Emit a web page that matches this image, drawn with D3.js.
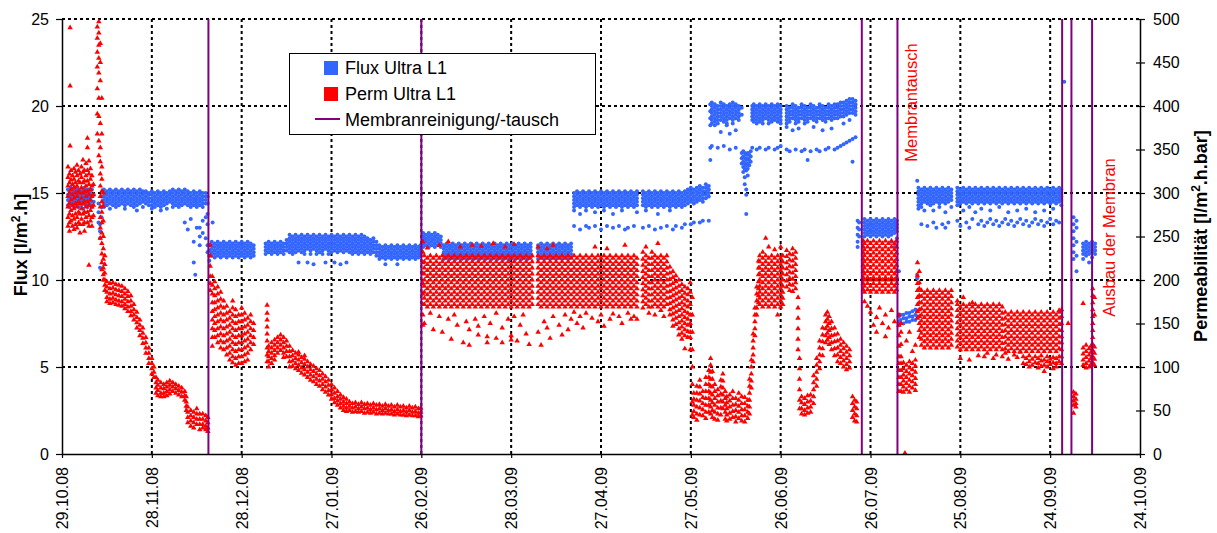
<!DOCTYPE html>
<html>
<head>
<meta charset="utf-8">
<script src="https://cdn.jsdelivr.net/npm/d3@7"></script>
<style>
  body { margin: 0; background: #fff; }
  svg { display: block; font-family: "Liberation Sans", Arial, sans-serif; }
</style>
</head>
<body>
<svg id="chart" width="1217" height="533"></svg>
<script>
// X axis: dates every 30 days
const dateTickLabels = ["29.10.08","28.11.08","28.12.08","27.01.09","26.02.09","28.03.09","27.04.09",
  "27.05.09","26.06.09","26.07.09","25.08.09","24.09.09","24.10.09"];
const fluxTicks = [0, 5, 10, 15, 20, 25];
const permTicks = [0, 50, 100, 150, 200, 250, 300, 350, 400, 450, 500];

// Membrane cleaning / replacement events, days after 29.10.08
const cleaningDays = [48.9, 120, 267.1, 279, 334, 337.1, 344];

// Text notes: [day, top y-value in l/m².h.bar, text]
const notes = [[285.6, 472, "Membrantausch"], [351.7, 340, "Ausbau der Membran"]];

// Flux Ultra L1 [l/m².h] — "day: values measured that day"
const fluxRows = [
"2:15.2 14.9 14.6 14.3","2.5:15.1 14.8 14.5 14.2","3:15.3 15.0 14.7 14.4","3.5:15.2 14.9 14.6 14.3",
"4:15.1 14.8 14.5 14.2","4.5:15.2 15.0 14.7 14.4","5:15.3 14.9 14.6 14.3","5.5:15.1 14.8 14.5 14.2",
"6:15.2 15.0 14.7 14.4","6.5:15.2 14.9 14.6 14.3","7:15.1 14.8 14.5 14.1","7.5:15.3 15.0 14.7 14.4",
"8:15.2 14.9 14.6 14.3","8.5:15.1 14.8 14.5 14.2","9:15.2 15.0 14.7 14.4","9.5:15.1 14.9 14.6 14.3",
"10:15.2 14.8 14.5 14.2","10.6:14.9 14.5",
"12.2:14.4 13.9 13.3","12.7:13.2 12.8 12.4 10.7","13.2:14.8 14.2 13.6",
"14:15.2 15.0 14.8 14.6 14.4 14.2","15:15.1 14.9 14.7 14.5 14.3","16:15.2 15.0 14.8 14.6 14.4 14.1",
"17:15.1 14.9 14.7 14.5 14.3","18:15.2 15.0 14.8 14.6 14.4 14.2","19:15.1 14.9 14.7 14.5 14.3",
"20:15.2 15.0 14.8 14.6 14.4","21:15.1 14.9 14.7 14.5 14.3 14.1","22:15.2 15.0 14.8 14.6 14.4",
"23:15.1 14.9 14.7 14.5 14.3","24:15.2 15.0 14.8 14.6 14.4 14.2","25:15.1 14.9 14.7 14.5 14.3 14.0",
"26:15.2 15.0 14.8 14.6 14.4","27:15.1 14.9 14.7 14.5 14.2","28:15.1 15.0 14.8 14.6 14.4",
"29:15.0 14.9 14.7 14.5 14.3","30:15.1 14.9 14.7 14.5 14.3 14.1","31:15.0 14.8 14.6 14.4 14.2",
"32:15.1 14.9 14.7 14.5 14.3","33:15.0 14.8 14.6 14.4 14.2 14.0","34:15.1 14.9 14.7 14.5 14.3",
"35:15.0 14.8 14.6 14.4 14.1","36:15.1 14.9 14.7 14.5",
"37:15.2 15.0 14.8 14.6 14.4 14.2","38:15.1 14.9 14.7 14.5 14.3","39:15.2 15.0 14.8 14.6 14.4 14.2",
"40:15.1 14.9 14.7 14.5 14.3","41:15.2 15.0 14.8 14.6 14.4 13.3","42:15.1 14.9 14.7 14.5 14.3 12.9",
"43:15.0 14.8 14.6 14.4 14.2 13.5","44:15.1 14.9 14.7 14.5 14.3 12.2 11.0","44.5:14.6 10.3",
"45:15.0 14.8 14.6 14.4 14.2 13.0","46:15.1 14.9 14.7 14.5 14.3 13.0 12.5 12.0",
"47:15.0 14.8 14.6 14.4 14.2 13.4 12.7","48:15.0 14.8 14.6 14.4 13.6 12.4","48.6:14.8 14.4 13.8 13.2 12.0 11.6",
"49.2:12.0 11.7 11.4 11.1","50:12.2 12.0 11.8 11.6 11.4","50.3:13.3","51:12.1 11.9 11.7 11.5 11.3",
"52:12.2 12.0 11.8 11.6 11.4","53:12.1 11.9 11.7 11.5 11.3","54:12.2 12.0 11.8 11.6 11.4",
"55:12.1 11.9 11.7 11.5 11.3","56:12.2 12.0 11.8 11.6 11.4","57:12.1 11.9 11.7 11.5 11.3",
"58:12.2 12.0 11.8 11.6 11.4","59:12.1 11.9 11.7 11.5 11.3","60:12.2 12.0 11.8 11.6 11.4",
"61:12.1 11.9 11.7 11.5 11.3","62:12.2 12.0 11.8 11.6 11.4","63:12.1 11.9 11.7 11.5 11.3","64:12.0 11.8 11.6 11.4",
"68:12.1 11.9 11.7 11.5","69:12.2 12.0 11.8 11.6","70:12.1 11.9 11.7 11.5","71:12.2 12.0 11.8 11.6",
"72:12.1 11.9 11.7 11.5","73:12.2 12.0 11.8 11.6","74:12.1 11.9 11.7 11.5","75:12.3 12.1 11.9 11.7",
"76:12.6 12.4 12.2 12.0 11.8 11.6","77:12.5 12.3 12.1 11.9 11.7 11.5","78:12.6 12.4 12.2 12.0 11.8 11.6",
"79:12.5 12.3 12.1 11.9 11.7 11.0","80:12.6 12.4 12.2 12.0 11.8 11.6","81:12.5 12.3 12.1 11.9 11.7 11.5",
"82:12.6 12.4 12.2 12.0 11.8 11.0","83:12.5 12.3 12.1 11.9 11.7 11.5","84:12.6 12.4 12.2 12.0 11.8 10.9",
"85:12.5 12.3 12.1 11.9 11.7 11.5","86:12.6 12.4 12.2 12.0 11.8 11.6","87:12.5 12.3 12.1 11.9 11.7 11.5",
"88:12.6 12.4 12.2 12.0 11.8 11.0","89:12.5 12.3 12.1 11.9 11.7 11.5","90:12.6 12.4 12.2 12.0 11.8 11.6",
"91:12.5 12.3 12.1 11.9 11.7 11.0","92:12.6 12.4 12.2 12.0 11.8 11.6","93:12.5 12.3 12.1 11.9 11.7 10.9",
"94:12.6 12.4 12.2 12.0 11.8 11.6","95:12.5 12.3 12.1 11.9 11.7 11.0","96:12.6 12.4 12.2 12.0 11.8 11.6",
"97:12.5 12.3 12.1 11.9 11.7 11.5","98:12.6 12.4 12.2 12.0 11.8 11.6","99:12.5 12.3 12.1 11.9 11.7 11.5",
"100:12.6 12.4 12.2 12.0 11.8 11.6","101:12.5 12.3 12.1 11.9 11.7 11.5","102:12.4 12.2 12.0 11.8 11.6",
"103:12.3 12.1 11.9 11.7 11.5","104:12.4 12.2 12.0 11.8 11.6","105:12.2 12.0 11.8 11.6 11.4",
"106:12.0 11.8 11.6 11.4 11.2","107:11.9 11.7 11.5 11.3","108:12.0 11.8 11.6 11.4 11.2 10.9",
"109:11.9 11.7 11.5 11.3","110:12.0 11.8 11.6 11.4 11.2","111:11.9 11.7 11.5 11.3",
"112:12.0 11.8 11.6 11.4 11.2 10.9","113:11.9 11.7 11.5 11.3","114:12.0 11.8 11.6 11.4 11.2",
"115:11.9 11.7 11.5 11.3","116:12.0 11.8 11.6 11.4 11.2","117:11.9 11.7 11.5 11.3",
"118:12.0 11.8 11.6 11.4 11.2","119:11.9 11.7 11.5 11.3","119.7:12.0 11.8 11.6 11.4",
"120.6:12.7 12.5 12.3 12.1 11.9","121.5:12.6 12.4 12.2 12.0","122.5:12.7 12.5 12.3 12.1 11.9",
"123.5:12.6 12.4 12.2 12.0","124.5:12.7 12.5 12.3 12.1 11.9","125.5:12.6 12.4 12.2 12.0","126.5:12.5 12.3 12.1 11.9",
"127.5:12.0 11.8 11.6 11.4 11.2","128.5:12.1 11.9 11.7 11.5 11.3","129.5:12.0 11.8 11.6 11.4 11.2",
"130.5:12.1 11.9 11.7 11.5 11.3","131.5:12.0 11.8 11.6 11.4 11.2","132.5:12.1 11.9 11.7 11.5 11.3",
"133.5:12.0 11.8 11.6 11.4 11.2","134.5:12.1 11.9 11.7 11.5 11.3","135.5:12.0 11.8 11.6 11.4 11.2",
"136.5:12.1 11.9 11.7 11.5 11.3","137.5:12.0 11.8 11.6 11.4 11.2","138.5:12.1 11.9 11.7 11.5 11.3",
"139.5:12.0 11.8 11.6 11.4 11.2","140.5:12.1 11.9 11.7 11.5 11.3","141.5:12.0 11.8 11.6 11.4 11.2",
"142.5:12.1 11.9 11.7 11.5 11.3","143.5:12.0 11.8 11.6 11.4 11.2","144.5:12.1 11.9 11.7 11.5 11.3",
"145.5:12.0 11.8 11.6 11.4 11.2","146.5:12.1 11.9 11.7 11.5 11.3","147.5:12.0 11.8 11.6 11.4 11.2",
"148.5:12.1 11.9 11.7 11.5 11.3","149.5:12.0 11.8 11.6 11.4 11.2","150.5:12.1 11.9 11.7 11.5 11.3",
"151.5:12.0 11.8 11.6 11.4 11.2","152.5:12.1 11.9 11.7 11.5 11.3","153.5:12.0 11.8 11.6 11.4 11.2",
"154.5:12.1 11.9 11.7 11.5 11.3","155.5:12.0 11.8 11.6 11.4 11.2","156.5:12.1 11.9 11.7 11.5 11.3",
"159:12.0 11.8 11.6 11.4 11.2","160:12.1 11.9 11.7 11.5 11.3","161:12.0 11.8 11.6 11.4 11.2",
"162:12.1 11.9 11.7 11.5 11.3","163:12.0 11.8 11.6 11.4 11.2","164:12.1 11.9 11.7 11.5 11.3",
"165:12.0 11.8 11.6 11.4 11.2","166:12.1 11.9 11.7 11.5 11.3","167:12.0 11.8 11.6 11.4 11.2",
"168:12.1 11.9 11.7 11.5 11.3","169:12.0 11.8 11.6 11.4 11.2","170:12.1 11.9 11.7 11.5 11.3",
"171:15.0 14.8 14.6 14.4 14.2 14.0 13.1","172:15.1 14.9 14.7 14.5 14.3","173:15.0 14.8 14.6 14.4 14.2 13.8 12.9",
"174:15.1 14.9 14.7 14.5 14.3","175:15.0 14.8 14.6 14.4 14.2 14.0 13.1","176:15.1 14.9 14.7 14.5 14.3 13.0",
"177:15.0 14.8 14.6 14.4 14.2","178:15.1 14.9 14.7 14.5 14.3 13.9 13.1","179:15.0 14.8 14.6 14.4 14.2",
"180:15.1 14.9 14.7 14.5 14.3 12.9","181:15.0 14.8 14.6 14.4 14.2 14.0","182:15.1 14.9 14.7 14.5 14.3 13.1",
"183:15.0 14.8 14.6 14.4 14.2","184:15.1 14.9 14.7 14.5 14.3 13.8 13.0","185:15.0 14.8 14.6 14.4 14.2",
"186:15.1 14.9 14.7 14.5 14.3 13.1","187:15.0 14.8 14.6 14.4 14.2 14.0","188:15.1 14.9 14.7 14.5 14.3 12.9",
"189:15.0 14.8 14.6 14.4 14.2 13.0","190:15.1 14.9 14.7 14.5 14.3","191:15.0 14.8 14.6 14.4 14.2 13.1",
"192:15.1 14.9 14.7 14.5 14.3 13.9","194:15.1 14.9 14.7 14.5 14.3 13.0","195:15.0 14.8 14.6 14.4 14.2 14.0",
"196:15.1 14.9 14.7 14.5 14.3 13.1","197:15.0 14.8 14.6 14.4 14.2","198:15.1 14.9 14.7 14.5 14.3 12.9",
"199:15.0 14.8 14.6 14.4 14.2 13.8","200:15.1 14.9 14.7 14.5 14.3 13.0","201:15.0 14.8 14.6 14.4 14.2",
"202:15.1 14.9 14.7 14.5 14.3 13.1","203:15.0 14.8 14.6 14.4 14.2 14.0","204:15.1 14.9 14.7 14.5 14.3 12.9",
"205:15.0 14.8 14.6 14.4 14.2 13.1","206:15.1 14.9 14.7 14.5 14.3","207:15.0 14.8 14.6 14.4 14.2 13.0",
"208:15.1 14.9 14.7 14.5 14.3 13.2","209:15.2 15.0 14.8 14.6 14.4","210:15.3 15.1 14.9 14.7 14.5 13.2",
"211:15.2 15.0 14.8 14.6 14.4 13.3","212:15.3 15.1 14.9 14.7 14.5","213:15.4 15.2 15.0 14.8 14.6 13.3",
"214:15.3 15.1 14.9 14.7 14.5 13.4","215:15.5 15.3 15.1 14.9 14.7","216:15.4 15.2 15.0 14.8 13.4",
"216.5:20.1 19.7 19.3 18.9 17.6 16.9","217:20.2 20.0 19.8 19.6 19.4 19.2 19.0 17.7",
"218:20.1 19.9 19.7 19.5 19.3 19.1 18.9","219:20.0 19.8 19.6 19.4 19.2 19.0 17.6",
"220:20.2 20.0 19.8 19.6 19.4 19.2 18.5","221:20.1 19.9 19.7 19.5 19.3 19.1 17.7",
"222:20.0 19.8 19.6 19.4 19.2 19.0 18.9","223:20.1 19.9 19.7 19.5 19.3 18.4 17.5",
"224:20.2 20.0 19.8 19.6 19.4 19.2 19.0","225:20.1 19.9 19.7 19.5 19.3 18.6 17.6",
"226:20.0 19.8 19.6 19.4 19.2",
"227:19.9 19.5 17.3 17.0 16.7","227.5:17.4 17.1 16.8 16.5 16.2","228:17.3 17.0 16.7 16.4 15.9 15.5",
"228.5:17.2 16.9 16.6 16.3 15.2 14.9 13.8","229:17.3 17.0 16.7 16.4 16.0","229.5:17.2 16.9 16.6","230:17.4 17.1 16.8",
"230.5:20.0 19.8 19.6 19.4 19.2 17.6","231:20.1 19.9 19.7 19.5 19.3 19.1","232:20.0 19.8 19.6 19.4 19.2 19.0 17.5",
"233:20.1 19.9 19.7 19.5 19.3 19.1 17.6","234:20.0 19.8 19.6 19.4 19.2 19.0","235:20.1 19.9 19.7 19.5 19.3 17.5",
"236:20.0 19.8 19.6 19.4 19.2 19.0 17.6","237:20.1 19.9 19.7 19.5 19.3 19.1","238:20.0 19.8 19.6 19.4 19.2 17.5",
"239:20.1 19.9 19.7 19.5 19.3 19.1 17.6","240:20.0 19.8 19.6 19.4 19.2 19.0 17.7",
"242:20.0 19.8 19.6 19.4 19.2 19.0 18.8 17.5","243:19.9 19.7 19.5 19.3 19.1 17.4","244:20.1 19.9 19.7 19.5 19.3 18.6",
"245:20.0 19.8 19.6 19.4 19.2 19.0 17.5","246:19.9 19.7 19.5 19.3 19.1 18.7","247:20.1 19.9 19.7 19.5 19.3 17.4",
"248:20.0 19.8 19.6 19.4 19.2 19.0 17.5","249:19.9 19.7 19.5 19.3 19.1 16.9","250:20.1 19.9 19.7 19.5 19.3 17.4",
"251:20.0 19.8 19.6 19.4 19.2 18.8","252:19.9 19.7 19.5 19.3 19.1 17.5","253:20.1 19.9 19.7 19.5 19.3 17.4",
"254:20.0 19.8 19.6 19.4 19.2 18.6","255:19.9 19.7 19.5 19.3 19.1 17.5","256:20.1 19.9 19.7 19.5 19.3 17.6",
"257:20.0 19.8 19.6 19.4 19.2 18.7","258:20.1 19.9 19.7 19.5 19.3 17.5","259:20.1 19.9 19.7 19.5 19.3 17.6",
"260:20.2 20.0 19.8 19.6 19.4 17.7","261:20.2 20.0 19.8 19.6 19.4 19.0 17.8","262:20.3 20.1 19.9 19.7 19.5 17.9",
"263:20.4 20.2 20.0 19.8 19.6 19.2 18.0","264:20.4 20.2 20.0 19.8 19.6 18.1 16.8","265:20.3 20.1 19.9 19.7 19.5 18.2",
"265.7:13.4 13.0 12.6 12.2 11.9","266.2:13.3 12.9 12.5",
"268:13.5 13.3 13.1 12.9 12.7 12.5","269:13.4 13.2 13.0 12.8 12.6","270:13.5 13.3 13.1 12.9 12.7 12.5",
"271:13.4 13.2 13.0 12.8 12.6","272:13.5 13.3 13.1 12.9 12.7 12.5","273:13.4 13.2 13.0 12.8 12.6",
"274:13.5 13.3 13.1 12.9 12.7 12.5","275:13.4 13.2 13.0 12.8 12.6","276:13.5 13.3 13.1 12.9 12.7 12.5",
"277:13.4 13.2 13.0 12.8 12.6 12.2","278:13.5 13.3 13.1 12.9 12.7 11.9","278.8:13.4 13.2 13.0 12.8 12.4",
"279.5:10.5 7.9 7.6 7.4","280:8.0 7.7 7.5","281:8.0 7.8 7.5","282:8.1 7.8 7.6","283:8.1 7.9 7.6",
"284:8.2 7.9 7.7","285:8.3 8.0 7.7","285.6:15.7 10.3 10.1 8.2 7.9",
"286:15.3 15.1 14.9 14.7 14.5 14.3 14.1","287:15.2 15.0 14.8 14.6 14.4 14.2 13.2","288:15.3 15.1 14.9 14.7 14.5 14.0",
"289:15.2 15.0 14.8 14.6 14.4 13.1","290:15.3 15.1 14.9 14.7 14.5 14.3","291:15.2 15.0 14.8 14.6 14.4 14.0 13.3",
"292:15.3 15.1 14.9 14.7 14.5 13.0","293:15.2 15.0 14.8 14.6 14.4 14.2","294:15.3 15.1 14.9 14.7 14.5 13.2",
"295:15.2 15.0 14.8 14.6 14.4 13.9 13.0","296:15.3 15.1 14.9 14.7 14.5 13.3","297:15.2 15.0 14.8 14.6 14.2",
"299:15.3 15.1 14.9 14.7 14.5 14.3 13.4","300:15.2 15.0 14.8 14.6 14.4 13.1","301:15.3 15.1 14.9 14.7 14.5 14.0",
"302:15.2 15.0 14.8 14.6 14.4 13.3","303:15.3 15.1 14.9 14.7 14.5 14.2 13.0","304:15.2 15.0 14.8 14.6 14.4 13.5",
"305:15.3 15.1 14.9 14.7 14.5 13.9","306:15.2 15.0 14.8 14.6 14.4 13.2","307:15.3 15.1 14.9 14.7 14.5 14.1 13.4",
"308:15.2 15.0 14.8 14.6 14.4 13.1","309:15.3 15.1 14.9 14.7 14.5 13.3","310:15.2 15.0 14.8 14.6 14.4 14.0 13.5",
"311:15.3 15.1 14.9 14.7 14.5 13.2","312:15.2 15.0 14.8 14.6 14.4 13.4","313:15.3 15.1 14.9 14.7 14.5 14.2 13.1",
"314:15.2 15.0 14.8 14.6 14.4 13.3","315:15.3 15.1 14.9 14.7 14.5 13.5","316:15.2 15.0 14.8 14.6 14.4 13.9 13.2",
"317:15.3 15.1 14.9 14.7 14.5 13.4","318:15.2 15.0 14.8 14.6 14.4 13.1","319:15.3 15.1 14.9 14.7 14.5 14.0 13.3",
"320:15.2 15.0 14.8 14.6 14.4 13.5","321:15.3 15.1 14.9 14.7 14.5 13.2","322:15.2 15.0 14.8 14.6 14.4 14.1 13.4",
"323:15.3 15.1 14.9 14.7 14.5 13.1","324:15.2 15.0 14.8 14.6 14.4 13.3","325:15.3 15.1 14.9 14.7 14.5 13.9 13.5",
"326:15.2 15.0 14.8 14.6 14.4 13.2","327:15.3 15.1 14.9 14.7 14.5 13.4","328:15.2 15.0 14.8 14.6 14.4 14.0 13.1",
"329:15.3 15.1 14.9 14.7 14.5 13.3","330:15.2 15.0 14.8 14.6 14.4 13.5","331:15.3 15.1 14.9 14.7 14.5 14.1 13.2",
"332:15.2 15.0 14.8 14.6 14.4 13.4","333:15.3 15.1 14.9 14.7 14.5 13.3","333.7:15.2 15.0 14.8 14.6 14.3",
"334.7:21.4",
"337.8:13.6 13.2 12.8 12.4 12.0 11.6 11.2","338.8:13.4 13.0 12.2 11.4 10.5",
"341:12.1 11.9 11.7 11.5 11.2","342:12.2 12.0 11.8 11.6 11.4","343:12.1 11.9 11.7 11.5 11.0",
"344:12.2 12.0 11.8 11.6 11.3","345:12.1 11.9 11.7 11.5"
];

// Perm Ultra L1 [l/m².h.bar] — "day: values measured that day"
const permRows = [
"2.7:490 423 354",
"2:330 318 308 296 284 272 262","2.5:322 312 300 288 276 266 256","3:326 315 304 292 280 268","3.5:320 310 298 286 274 262",
"4:328 316 306 294 282 270 258","4.5:324 312 300 288 276 264","5:332 320 308 296 284 272 260","5.5:326 314 302 290 278 266",
"6:322 312 300 288 276 264 254","6.5:330 318 306 294 282 270","7:338 324 312 300 288 276 264","7.5:326 314 302 290 278 266 256",
"8:334 320 308 296 284 272","8.5:363 352 326 314 302 290 278 266","9:337 322 310 298 286 274 262 217","9.5:328 316 304 292 280 268",
"10:320 308 296 284 272 262","10.5:310 298 286 274",
"11.8:491 478 462 445 420 391 368","12.3:497 484 470 455 438 409 388 360 343",
"12.8:472 450 429 380 352 336 322 308 296 284 272 260 248","13.3:409 368 330 316 302 290 278 266 254 242 230 220 212",
"13.8:300 285 268 250 236 224 214 206 200","14.3:228 218 208 200 194 188",
"15:198 192 186 180 175","16:196 190 184 178 173","17:197 191 185 179 174","18:195 189 183 177 172",
"19:194 188 182 176 171","20:193 187 181 175 170","21:190 184 178 172 167","22:187 181 175 169 164","23:182 176 170 164 159",
"24:172 166 160 154","25:163 157 151 145","26:154 148 142 136","27:145 139 133 127","28:134 128 122 116",
"29:122 116 110 104","30:110 104 98 92","30.7:100 94 88",
"31.4:88 82 76 70","32:85 79 73 67","33:82 76 70 66","34:80 75 70 66","35:82 77 72 67","36:84 79 74 69",
"37:82 77 72","38:80 75 70","39:78 73 68","40:76 71 66","41:72 67 62","41.5:66 60 55 50",
"42:54 48 42 36","43:50 44 38 32","44:48 42 36 30","45:52 46 40 34","46:46 40 34 28","47:46 40 34 30","48:44 38 32 28","48.7:42 36 30 26",
"49.5:240 228 216 204 196 188","50.2:204 194 184 174 164 154 144 134 124",
"51:198 190 182 174 166 158 150 142 134","52:192 184 176 168 160 152 144 136 128","53:186 178 170 162 154 146 138 130 122",
"54:176 168 160 152 144 136 128 120","55:170 162 154 146 138 130 122 114","56:164 156 148 140 132 124 116 108",
"57:176 168 160 152 144 136 128 120 112 105","58:166 158 150 142 134 126 118 110 102","59:160 152 144 136 128 120 112 104",
"60:168 160 152 144 136 128 120 112 104","61:162 154 146 138 130 122 114 106","62:156 148 140 132 124 116 108",
"63:160 152 144 136 128 120","64:150 142 134 126",
"68.5:171 162 154 146 138 130 122 114 106","69:124 118 112 106 100",
"70:128 122 116 110 104","71:131 125 119 113 108","72:134 128 122 116","73:137 131 125 119","74:134 128 122 116 111",
"75:130 124 118 112","76:124 118 112 106 100","77:119 113 107 101","78:116 110 104 98","79:117 114 108 102 96",
"80:111 105 99 93","81:113 109 103 97 91","82:106 100 94 88","83:103 97 91 85","84:101 95 89 83",
"85:98 92 86 80","86:96 90 84 78","87:92 86 80 74","88:89 83 77 71","89:85 79 73 68",
"90:80 74 68 63","91:76 70 64 59","92:72 66 61 56","93:68 63 58 53","94:65 60 55 50","95:63 58 53 49",
"96:60 55 50","97:58 53 48","98:59 54 49","99:57 52 48","100:59 54 49","101:57 52 47","102:58 53 48",
"103:56 51 47","104:58 53 48","105:56 51 46","106:57 52 47","107:55 50 46","108:57 52 47","109:55 50 46",
"110:56 51 46","111:54 49 45","112:56 51 46","113:54 49 45","114:55 50 45","115:53 48 44","116:55 50 45",
"117:53 48 44","118:54 49 44","119:52 47 43","119.8:53 48 44",
"120.5:244 232 220 208 196 184 172 160 148",
"121:228 221 214 207 200 193 186 179 172 150","122:237 225 218 211 204 197 190 183 176 169",
"123:228 221 214 207 200 193 186 179 172 162","124:225 218 211 204 197 190 183 176 169 143",
"125:228 221 214 207 200 193 186 179 172","126:240 225 218 211 204 197 190 183 176 169 158",
"127:228 221 214 207 200 193 186 179 172 140","128:225 218 211 204 197 190 183 176 169",
"129:244 228 221 214 207 200 193 186 179 172 155","130:225 218 211 204 197 190 183 176 169 132",
"131:228 221 214 207 200 193 186 179 172 160","132:225 218 211 204 197 190 183 176 169 148",
"133:238 228 221 214 207 200 193 186 179 172","134:225 218 211 204 197 190 183 176 169 128",
"135:228 221 214 207 200 193 186 179 172 152","136:225 218 211 204 197 190 183 176 169 143 125",
"137:240 228 221 214 207 200 193 186 179 172","138:225 218 211 204 197 190 183 176 169 155",
"139:228 221 214 207 200 193 186 179 172 147 137","140:239 225 218 211 204 197 190 183 176 169",
"141:228 221 214 207 200 193 186 179 172 158","142:225 218 211 204 197 190 183 176 169 135 128",
"143:228 221 214 207 200 193 186 179 172 150","144:242 225 218 211 204 197 190 183 176 169",
"145:228 221 214 207 200 193 186 179 172 162 133","146:225 218 211 204 197 190 183 176 169",
"147:228 221 214 207 200 193 186 179 172 145 128","148:238 225 218 211 204 197 190 183 176 169",
"149:228 221 214 207 200 193 186 179 172 155","150:225 218 211 204 197 190 183 176 169 136 131",
"151:241 228 221 214 207 200 193 186 179 172 158","152:225 218 211 204 197 190 183 176 169 130",
"153:228 221 214 207 200 193 186 179 172 148","154:225 218 211 204 197 190 183 176 169 160",
"155:228 221 214 207 200 193 186 179 172 138","156:225 218 211 204 197 190 183 176 169 126",
"157:228 221 214 207 200 193 186 179 172",
"159:238 228 221 214 207 200 193 186 179 172 140","160:225 218 211 204 197 190 183 176 169 125",
"161:228 221 214 207 200 193 186 179 172 152","162:236 225 218 211 204 197 190 183 176 169 145",
"163:228 221 214 207 200 193 186 179 172 133","164:240 225 218 211 204 197 190 183 176 169 158",
"165:228 221 214 207 200 193 186 179 172","166:225 218 211 204 197 190 183 176 169 148",
"167:228 221 214 207 200 193 186 179 172 137","168:225 218 211 204 197 190 183 176 169 160",
"169:228 221 214 207 200 193 186 179 172 143","170:225 218 211 204 197 190 183 176 169 155",
"171:228 221 214 207 200 193 186 179 172 163","172:225 218 211 204 197 190 183 176 169 150",
"173:228 221 214 207 200 193 186 179 172 158","174:225 218 211 204 197 190 183 176 169 145",
"175:228 221 214 207 200 193 186 179 172 162","176:225 218 211 204 197 190 183 176 169",
"177:228 221 214 207 200 193 186 179 172 156","178:238 225 218 211 204 197 190 183 176 169",
"179:228 221 214 207 200 193 186 179 172 152","180:225 218 211 204 197 190 183 176 169 160",
"181:228 221 214 207 200 193 186 179 172 147","182:236 225 218 211 204 197 190 183 176 169",
"183:228 221 214 207 200 193 186 179 172 155","184:225 218 211 204 197 190 183 176 169 161",
"185:228 221 214 207 200 193 186 179 172","186:225 218 211 204 197 190 183 176 169 158",
"187:228 221 214 207 200 193 186 179 172 150","188:240 225 218 211 204 197 190 183 176 169",
"189:228 221 214 207 200 193 186 179 172 162","190:225 218 211 204 197 190 183 176 169 155",
"191:228 221 214 207 200 193 186 179 172 158","192:225 218 211 204 197 190 183 176 169 155",
"194:232 224 217 210 203 196 189 182 175 168","195:238 228 221 214 207 200 193 186 179 172",
"196:225 218 211 204 197 190 183 176 169 162","197:232 225 218 211 204 197 190 183 176 169",
"198:228 221 214 207 200 193 186 179 172 160","199:242 225 218 211 204 197 190 183 176 169",
"200:228 221 214 207 200 193 186 179 172 165","201:225 218 211 204 197 190 183 176 169 158",
"202:228 221 214 207 200 193 186 179 172","203:215 208 201 194 187 180 173 166 160",
"204:210 203 196 189 182 175 168 161 154 147","205:205 198 191 184 177 170 163 156 149",
"206:200 193 186 179 172 165 158 151 144 137","207:195 188 181 174 167 160 153 146 139 132",
"208:192 185 178 171 164 157 150 143 136 121","209:190 183 176 169 162 155 148 141 134",
"209.8:197 186 172 160 150 140 134 120","210.5:180 160 140 120 100 80 60 45",
"211:70 63 56 49 42","212:78 70 62 54 46 39","213:85 77 69 61 53 45","214:72 65 58 51 44",
"215:88 80 72 64 56 48 41","216:96 88 80 72 64 56 48","216.6:110 102 94 86 78 70 62 54 46",
"217.2:95 86 77 68 59 50 42","218:80 72 64 56 48 40","219:74 67 60 53 46 39","220:85 77 69 61 53 45",
"220.7:92 84 76 68 60 52","221.5:72 64 56 48 40","222:66 59 52 45 38","223:68 61 54 47 40",
"224:72 64 56 49 42","225:64 57 50 43 37","226:70 62 55 48 41","227:66 58 51 44 38","228:65 58 51 44 37","229:62 55 48 41",
"229.6:86 78 70 62 54 46","230.2:108 100 92 84 76","230.8:138 130 122 114 106","231.4:168 160 152 144 136",
"232:192 184 176 168 160","232.6:222 214 206 198 190 182 174",
"233:228 221 214 207 200 193 186 179 172","234:232 225 218 211 204 197 190 183 176 169",
"235:248 228 221 214 207 200 193 186 179 172","236:238 225 218 211 204 197 190 183 176 169",
"237:228 221 214 207 200 193 186 179 172","238:235 225 218 211 204 197 190 183 176 169",
"239:228 221 214 207 200 193 186 179 172 160","240:238 225 218 211 204 197 190 183 176 169",
"240.7:228 221 214 207 200 193 186 179 172",
"242:234 227 220 213 206 199 192","243:230 223 216 209 202 195 188","244:236 229 222 215 208 201 194 187",
"245:232 225 218 211 204 197 190","245.8:180 168 156 144 132 120","246.3:110 98 86 74 62 52",
"247:66 59 52 46","248:64 57 50 45","249:67 60 53 47","250:68 61 54 48",
"251:90 82 74 66 58","252:110 102 94 86 78","253:130 122 114 106 98","254:145 137 129 121 113",
"255:160 152 144 136 128","255.6:163 155 147 139 131","256.2:158 150 142 134 126",
"257:152 144 136 128 120","258:145 137 129 121 113","259:138 130 122 114 106","260:132 125 118 111 104",
"261:128 121 114 107 100","262:124 117 110 103 97","263:120 113 106 99",
"264:66 58 50 42","264.7:62 54 46 38","265.4:60 52 44 37",
"267.6:245 238 231 224 217 210 203 196 189","268:242 235 228 221 214 207 200 193 186 175",
"269:245 238 231 224 217 210 203 196 189 170","270:242 235 228 221 214 207 200 193 186 163",
"271:245 238 231 224 217 210 203 196 189 148","272:242 235 228 221 214 207 200 193 186 157 140",
"273:245 238 231 224 217 210 203 196 189 168","274:242 235 228 221 214 207 200 193 186 150",
"275:245 238 231 224 217 210 203 196 189 160 135","276:242 235 228 221 214 207 200 193 186 145",
"277:245 238 231 224 217 210 203 196 189 165","278:242 235 228 221 214 207 200 193 186 152",
"278.7:245 238 231 224 217 210 203 196 189",
"279.5:160 148 136 124 112 104 96 88 80 72","280.2:150 140 126 112 104 96 88 80 72",
"281:105 98 91 84 77 71","281.5:1","282:130 102 95 88 81 74","283:140 106 99 92 85 78 71",
"284:118 104 97 90 83 76","285:125 108 101 94 87 80 73",
"285.7:220 205 196 188 180 172 164 156","286.3:210 197 190 182 174 166 158 150 142 134",
"287:188 181 174 167 160 153 146 139 132 125","288:185 178 171 164 157 150 143 136 129 122",
"289:188 181 174 167 160 153 146 139 132 125","290:185 178 171 164 157 150 143 136 129 122",
"291:188 181 174 167 160 153 146 139 132 125","292:185 178 171 164 157 150 143 136 129 122",
"293:188 181 174 167 160 153 146 139 132 125","294:185 178 171 164 157 150 143 136 129 122",
"295:188 181 174 167 160 153 146 139 132 125","296:185 178 171 164 157 150 143 136 129 122",
"297:188 181 174 167 160 153 146 139 132 125",
"299:176 172 165 158 151 144 137 130 123","300:169 162 155 148 141 134 127 120 110",
"301:180 172 165 158 151 144 137 130 123","302:169 162 155 148 141 134 127 120",
"303:172 165 158 151 144 137 130 123 108","304:174 169 162 155 148 141 134 127 120",
"305:172 165 158 151 144 137 130 123","306:169 162 155 148 141 134 127 120 113",
"307:172 165 158 151 144 137 130 123","308:169 162 155 148 141 134 127 120 112",
"309:172 165 158 151 144 137 130 123 116","310:169 162 155 148 141 134 127 120",
"311:172 165 158 151 144 137 130 123 110","312:169 162 155 148 141 134 127 120 114",
"313:172 165 158 151 144 137 130 123","314:169 162 155 148 141 134 127 120 112",
"315:163 156 149 142 135 128 121 116","316:160 153 146 139 132 125 118 109",
"317:163 156 149 142 135 128 121","318:160 153 146 139 132 125 118 114",
"319:163 156 149 142 135 128 121 111","320:160 153 146 139 132 125 118 117",
"321:163 156 149 142 135 128 121 112 104","322:160 153 146 139 132 125 118 110 103",
"323:163 156 149 142 135 128 121 113 106 100","324:160 153 146 139 132 125 118 109 102",
"325:163 156 149 142 135 128 121 112 105","326:160 153 146 139 132 125 118 110 104 99",
"327:163 156 149 142 135 128 121 113 107 101","328:160 153 146 139 132 125 118 108 102 95",
"329:163 156 149 142 135 128 121 112 106 100","330:160 153 146 139 132 125 118 109 103",
"331:163 156 149 142 135 128 121 111 105 98","332:160 153 146 139 132 125 118 110 104 100",
"333:165 163 156 149 142 135 128 121 112 106","333.8:166 158 150 142 135 128 120 112 104",
"336:150","337.8:71 66 61 56 47","338.6:69 63 58 54",
"341:173 122 115 108 102","342:125 118 111 104 99","343:121 114 107 100","343.6:124 117 110 103",
"344.2:190 182 174 166 158 150 142 134 126 119 112 105","344.8:180 160 123 116 109 102"
];

// ---------- layout ----------
const W = 1217, H = 533;
const plot = { left: 62, right: 1140, top: 19, bottom: 454 };
const COLORS = { flux: "#3366ff", perm: "#ff0000", event: "#800080" };

const parseDate = d3.utcParse("%d.%m.%y");
const tickDates = dateTickLabels.map(parseDate);
const t0 = tickDates[0].getTime();
const dayToDate = d => new Date(t0 + d * 864e5);

const x = d3.scaleUtc().domain([tickDates[0], tickDates[tickDates.length - 1]]).range([plot.left, plot.right]);
const yFlux = d3.scaleLinear().domain([0, 25]).range([plot.bottom, plot.top]);
const yPerm = d3.scaleLinear().domain([0, 500]).range([plot.bottom, plot.top]);

const parseRows = rows => rows.flatMap(r => {
  const [d, vs] = r.split(":");
  return vs.trim().split(/\s+/).map(v => ({ day: +d, value: +v }));
});
const fluxPts = parseRows(fluxRows);
const permPts = parseRows(permRows);

const svg = d3.select("#chart");
svg.append("rect").attr("width", W).attr("height", H).attr("fill", "#fff");

// ---------- grid ----------
const grid = svg.append("g").attr("stroke", "#000").attr("stroke-width", 2).attr("stroke-dasharray", "3,3");
grid.selectAll("line.h").data(fluxTicks.slice(1)).join("line")
  .attr("x1", plot.left).attr("x2", plot.right)
  .attr("y1", d => yFlux(d)).attr("y2", d => yFlux(d));
grid.selectAll("line.v").data(tickDates.slice(1, -1)).join("line")
  .attr("x1", d => x(d)).attr("x2", d => x(d))
  .attr("y1", plot.top).attr("y2", plot.bottom);

// ---------- data ----------
svg.append("g").selectAll("circle").data(fluxPts).join("circle")
  .attr("cx", d => x(dayToDate(d.day)))
  .attr("cy", d => yFlux(d.value))
  .attr("r", 2)
  .attr("fill", COLORS.flux);

const tri = d3.symbol(d3.symbolTriangle, 13);
svg.append("g").selectAll("path").data(permPts).join("path")
  .attr("d", tri)
  .attr("transform", d => `translate(${x(dayToDate(d.day))},${yPerm(d.value)})`)
  .attr("fill", COLORS.perm);

// ---------- cleaning / replacement events ----------
svg.append("g").selectAll("line").data(cleaningDays).join("line")
  .attr("x1", d => x(dayToDate(d))).attr("x2", d => x(dayToDate(d)))
  .attr("y1", plot.top).attr("y2", plot.bottom)
  .attr("stroke", COLORS.event).attr("stroke-width", 2);

// ---------- axes ----------
const axisFont = g => g.selectAll("text").attr("font-size", 16).attr("fill", "#000")
  .attr("font-family", '"Liberation Sans", Arial, sans-serif');

const gx = svg.append("g").attr("transform", `translate(0,${plot.bottom})`)
  .call(d3.axisBottom(x).tickValues(tickDates).tickFormat((d, i) => dateTickLabels[i]).tickSize(4).tickSizeOuter(0));
gx.call(axisFont);
gx.selectAll("text").attr("transform", "rotate(-90)").attr("text-anchor", "end")
  .attr("x", -13).attr("y", 0).attr("dy", "0.35em");

const gl = svg.append("g").attr("transform", `translate(${plot.left},0)`)
  .call(d3.axisLeft(yFlux).tickValues(fluxTicks).tickSize(6).tickPadding(7).tickSizeOuter(0));
gl.call(axisFont);

const gr = svg.append("g").attr("transform", `translate(${plot.right},0)`)
  .call(d3.axisRight(yPerm).tickValues(permTicks).tickSize(5).tickPadding(8).tickSizeOuter(0));
gr.call(axisFont);
gr.selectAll(".tick line").attr("x1", -4);

[gx, gl, gr].forEach(g => {
  g.select(".domain").attr("stroke", "#000").attr("stroke-width", 1.5);
  g.selectAll(".tick line").attr("stroke", "#000").attr("stroke-width", 1.2);
});

// axis titles
function title(tx, ty, before, after) {
  const t = svg.append("text")
    .attr("transform", `translate(${tx},${ty}) rotate(-90)`)
    .attr("text-anchor", "middle").attr("font-weight", "bold").attr("font-size", 18).attr("fill", "#000");
  t.append("tspan").text(before);
  t.append("tspan").attr("font-size", 12).attr("dy", -7).text("2");
  t.append("tspan").attr("dy", 7).text(after);
}
title(27, 245, "Flux [l/m", ".h]");
title(1207, 236, "Permeabilität [l/m", ".h.bar]");

// ---------- notes ----------
svg.append("g").selectAll("text").data(notes).join("text")
  .attr("transform", d => `translate(${x(dayToDate(d[0]))},${yPerm(d[1])}) rotate(-90)`)
  .attr("text-anchor", "end").attr("font-size", 16.5).attr("fill", COLORS.perm)
  .text(d => d[2]);

// ---------- legend ----------
const lg = svg.append("g");
lg.append("rect").attr("x", 289.5).attr("y", 53.5).attr("width", 306).attr("height", 81)
  .attr("fill", "#fff").attr("stroke", "#000").attr("stroke-width", 1);
const legendItems = [
  { label: "Flux Ultra L1", kind: "box", color: COLORS.flux },
  { label: "Perm Ultra L1", kind: "box", color: COLORS.perm },
  { label: "Membranreinigung/-tausch", kind: "line", color: COLORS.event }
];
legendItems.forEach((it, i) => {
  const cy = 68 + i * 26;
  if (it.kind === "box") {
    lg.append("rect").attr("x", 324).attr("y", cy - 7).attr("width", 14).attr("height", 14).attr("fill", it.color);
  } else {
    lg.append("line").attr("x1", 315).attr("x2", 340).attr("y1", cy - 1).attr("y2", cy - 1)
      .attr("stroke", it.color).attr("stroke-width", 2);
  }
  lg.append("text").attr("x", 345).attr("y", cy + 6).attr("font-size", 18).attr("fill", "#000").text(it.label);
});
</script>
</body>
</html>
